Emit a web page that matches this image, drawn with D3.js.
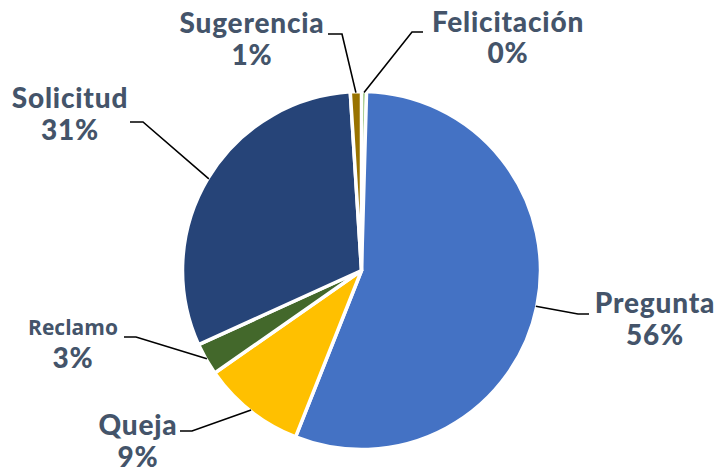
<!DOCTYPE html>
<html>
<head>
<meta charset="utf-8">
<script src="https://cdn.jsdelivr.net/npm/d3@7"></script>
<style>
  html, body { margin: 0; padding: 0; background: #fff; }
  svg { display: block; }
</style>
</head>
<body>
<svg id="chart" width="723" height="472"></svg>
<script>
// Request types and their share of the total (clockwise from 12 o'clock)
const categories = ["Felicitación", "Pregunta", "Queja", "Reclamo", "Solicitud", "Sugerencia"];
const values = [0.45, 55.55, 9.3, 2.9, 30.8, 1.0];
const colors = ["#70AD47", "#4472C4", "#FFC000", "#43682B", "#264478", "#997300"];

// Label placement: text centre, baselines, leader elbow and leader end
const labelLayout = {
  "Felicitación": { x: 508, y1: 32, y2: 63, elbow: [412, 32], end: [423, 32] },
  "Pregunta":     { x: 655, y1: 313, y2: 345, elbow: [578, 314], end: [589, 314] },
  "Queja":        { x: 138, y1: 435, y2: 467, elbow: [192, 431], end: [180, 431] },
  "Reclamo":      { x: 73,  y1: 335, y2: 368, elbow: [136, 337], end: [124, 337], small: true },
  "Solicitud":    { x: 70,  y1: 108, y2: 140, elbow: [143, 122], end: [130, 122] },
  "Sugerencia":   { x: 252, y1: 33, y2: 65, elbow: [342, 34], end: [328, 34] }
};

const cx = 361.5, cy = 270.5, radius = 179;
const total = d3.sum(values);
const svg = d3.select("#chart");
const g = svg.append("g").attr("transform", `translate(${cx},${cy})`);

const pie = d3.pie().sort(null).value(d => d.value);
const arc = d3.arc().innerRadius(0).outerRadius(radius);
const data = categories.map((c, i) => ({ name: c, value: values[i], color: colors[i] }));
const arcs = pie(data);

g.selectAll("path.slice")
  .data(arcs)
  .join("path")
  .attr("class", "slice")
  .attr("d", arc)
  .attr("fill", d => d.data.color)
  .attr("stroke", "#fff")
  .attr("stroke-width", 3.5)
  .attr("stroke-linejoin", "round");

// Leader lines from the slice edge (mid-angle) to the label
const edgePoint = d => {
  const a = (d.startAngle + d.endAngle) / 2;
  return [cx + Math.sin(a) * (radius - 1), cy - Math.cos(a) * (radius - 1)];
};

svg.selectAll("polyline.leader")
  .data(arcs)
  .join("polyline")
  .attr("class", "leader")
  .attr("points", d => {
    const L = labelLayout[d.data.name];
    return [edgePoint(d), L.elbow, L.end].map(p => p.join(",")).join(" ");
  })
  .attr("fill", "none")
  .attr("stroke", "#000")
  .attr("stroke-width", 1.6);

const labels = svg.selectAll("g.label")
  .data(arcs)
  .join("g")
  .attr("class", "label")
  .attr("fill", "#44546A")
  .attr("text-anchor", "middle");

labels.append("text")
  .attr("x", d => labelLayout[d.data.name].x)
  .attr("y", d => labelLayout[d.data.name].y1)
  .attr("font-family", d => labelLayout[d.data.name].small ? "'Open Sans', sans-serif" : "Lato, sans-serif")
  .attr("font-weight", d => labelLayout[d.data.name].small ? 700 : 900)
  .attr("letter-spacing", d => labelLayout[d.data.name].small ? 0 : 0.8)
  .attr("font-size", d => labelLayout[d.data.name].small ? 21 : 28)
  .text(d => d.data.name);

labels.append("text")
  .attr("x", d => labelLayout[d.data.name].x)
  .attr("y", d => labelLayout[d.data.name].y2)
  .attr("font-family", "Lato, sans-serif")
  .attr("font-weight", 900)
  .attr("letter-spacing", 0.8)
  .attr("font-size", 28)
  .text(d => Math.round(d.data.value / total * 100) + "%");
</script>
</body>
</html>
